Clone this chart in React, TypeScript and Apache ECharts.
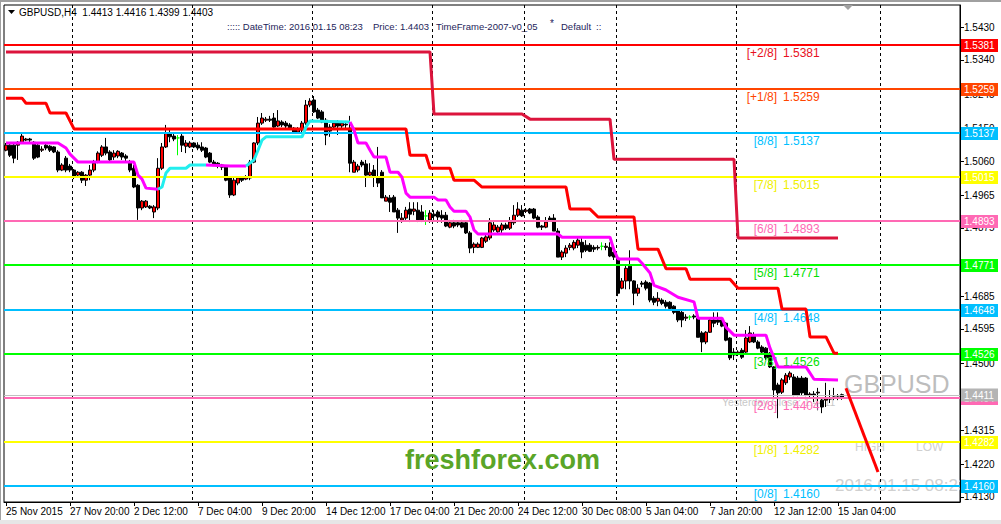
import React, { useEffect, useRef } from 'react';
import * as echarts from 'echarts';

// ---------- data ----------
const BAR_COUNT = 239; // bars incl. empty chart shift area

// H4 GBPUSD candles [open, close, low, high]
const candles: number[][] = [
  [1.5090,1.5104,1.5087,1.5110],[1.5104,1.5076,1.5071,1.5107],[1.5104,1.5068,1.5054,1.5107],[1.5104,1.5112,1.5063,1.5115],[1.5112,1.5129,1.5110,1.5135],
  [1.5118,1.5121,1.5115,1.5124],[1.5121,1.5118,1.5112,1.5124],[1.5112,1.5068,1.5063,1.5115],[1.5104,1.5071,1.5068,1.5107],[1.5090,1.5093,1.5085,1.5101],
  [1.5104,1.5096,1.5090,1.5110],[1.5101,1.5090,1.5085,1.5104],[1.5099,1.5085,1.5082,1.5101],[1.5085,1.5035,1.5029,1.5090],[1.5035,1.5049,1.5032,1.5054],
  [1.5068,1.5035,1.5029,1.5074],[1.5046,1.5035,1.5029,1.5052],[1.5035,1.5015,1.5010,1.5038],[1.5021,1.5029,1.5013,1.5032],[1.5029,1.5007,1.4999,1.5032],
  [1.5007,1.5021,1.4991,1.5024],[1.5021,1.5035,1.5007,1.5049],[1.5035,1.5054,1.5029,1.5063],[1.5057,1.5082,1.5054,1.5087],[1.5076,1.5099,1.5071,1.5104],
  [1.5099,1.5082,1.5076,1.5124],[1.5085,1.5063,1.5057,1.5090],[1.5071,1.5082,1.5063,1.5090],[1.5074,1.5087,1.5068,1.5090],[1.5082,1.5071,1.5063,1.5085],
  [1.5074,1.5068,1.5060,1.5079],[1.5057,1.5035,1.5029,1.5063],[1.5040,1.4988,1.4985,1.5049],[1.4993,1.4930,1.4897,1.4996],[1.4930,1.4949,1.4924,1.4952],
  [1.4933,1.4949,1.4930,1.4952],[1.4935,1.4930,1.4927,1.4938],[1.4919,1.4933,1.4902,1.4938],[1.4930,1.5040,1.4924,1.5068],[1.5040,1.5099,1.5035,1.5110],
  [1.5099,1.5138,1.5096,1.5160],[1.5138,1.5127,1.5112,1.5151],[1.5129,1.5121,1.5115,1.5135],[1.5124,1.5124,1.5076,1.5132],[1.5129,1.5104,1.5085,1.5138],
  [1.5101,1.5110,1.5082,1.5118],[1.5099,1.5110,1.5096,1.5115],[1.5110,1.5099,1.5096,1.5112],[1.5104,1.5096,1.5090,1.5112],[1.5099,1.5090,1.5085,1.5112],
  [1.5096,1.5071,1.5068,1.5099],[1.5082,1.5057,1.5054,1.5085],[1.5057,1.5049,1.5046,1.5063],[1.5054,1.5046,1.5040,1.5057],[1.5049,1.5043,1.5035,1.5052],
  [1.5043,1.5007,1.5004,1.5049],[1.5013,1.4966,1.4958,1.5015],[1.4966,1.5007,1.4963,1.5015],[1.4999,1.5013,1.4993,1.5015],[1.5013,1.5007,1.5002,1.5018],
  [1.5010,1.5015,1.5007,1.5021],[1.5013,1.5057,1.5007,1.5063],[1.5057,1.5110,1.5054,1.5112],[1.5110,1.5165,1.5104,1.5182],[1.5165,1.5179,1.5160,1.5193],
  [1.5173,1.5176,1.5168,1.5182],[1.5176,1.5173,1.5168,1.5185],[1.5179,1.5154,1.5151,1.5193],[1.5157,1.5171,1.5154,1.5201],[1.5168,1.5160,1.5154,1.5173],
  [1.5165,1.5157,1.5151,1.5171],[1.5160,1.5151,1.5148,1.5165],[1.5151,1.5140,1.5138,1.5154],[1.5140,1.5148,1.5138,1.5154],[1.5146,1.5165,1.5140,1.5171],
  [1.5165,1.5215,1.5160,1.5229],[1.5215,1.5226,1.5209,1.5234],[1.5229,1.5196,1.5193,1.5240],[1.5201,1.5179,1.5176,1.5207],[1.5196,1.5168,1.5165,1.5201],
  [1.5173,1.5132,1.5104,1.5179],[1.5154,1.5143,1.5127,1.5162],[1.5154,1.5165,1.5148,1.5171],[1.5165,1.5157,1.5132,1.5173],[1.5157,1.5165,1.5151,1.5171],
  [1.5162,1.5160,1.5146,1.5171],[1.5151,1.5054,1.5029,1.5185],[1.5029,1.5057,1.5029,1.5063],[1.5035,1.5046,1.5029,1.5052],[1.5057,1.5049,1.5043,1.5063],
  [1.5052,1.5021,1.4988,1.5063],[1.5021,1.5029,1.5015,1.5054],[1.5035,1.5015,1.4988,1.5049],[1.5013,1.4999,1.4988,1.5099],[1.5029,1.4958,1.4958,1.5035],
  [1.4949,1.4960,1.4949,1.4966],[1.4958,1.4946,1.4919,1.4966],[1.4960,1.4919,1.4919,1.4966],[1.4924,1.4902,1.4861,1.4930],[1.4897,1.4902,1.4889,1.4916],
  [1.4902,1.4924,1.4897,1.4933],[1.4927,1.4913,1.4891,1.4946],[1.4921,1.4927,1.4910,1.4946],[1.4924,1.4897,1.4891,1.4946],[1.4919,1.4897,1.4891,1.4938],
  [1.4908,1.4908,1.4883,1.4924],[1.4897,1.4916,1.4889,1.4924],[1.4913,1.4908,1.4897,1.4924],[1.4919,1.4905,1.4889,1.4924],[1.4910,1.4902,1.4889,1.4924],
  [1.4910,1.4880,1.4877,1.4919],[1.4877,1.4889,1.4874,1.4897],[1.4889,1.4880,1.4874,1.4897],[1.4889,1.4883,1.4877,1.4894],[1.4889,1.4877,1.4874,1.4897],
  [1.4889,1.4861,1.4858,1.4894],[1.4861,1.4819,1.4805,1.4866],[1.4821,1.4830,1.4805,1.4835],[1.4821,1.4830,1.4819,1.4835],[1.4821,1.4847,1.4819,1.4850],
  [1.4838,1.4850,1.4833,1.4855],[1.4847,1.4889,1.4841,1.4902],[1.4869,1.4883,1.4864,1.4891],[1.4864,1.4877,1.4861,1.4883],[1.4869,1.4883,1.4861,1.4889],
  [1.4883,1.4874,1.4869,1.4889],[1.4874,1.4891,1.4869,1.4905],[1.4889,1.4910,1.4883,1.4938],[1.4910,1.4927,1.4905,1.4946],[1.4924,1.4908,1.4905,1.4938],
  [1.4921,1.4924,1.4916,1.4930],[1.4927,1.4916,1.4913,1.4930],[1.4927,1.4902,1.4899,1.4930],[1.4905,1.4877,1.4874,1.4910],[1.4880,1.4877,1.4869,1.4883],
  [1.4877,1.4891,1.4874,1.4905],[1.4902,1.4897,1.4894,1.4908],[1.4902,1.4866,1.4866,1.4913],[1.4866,1.4794,1.4794,1.4874],[1.4794,1.4808,1.4786,1.4813],
  [1.4805,1.4819,1.4794,1.4827],[1.4821,1.4827,1.4813,1.4833],[1.4819,1.4835,1.4813,1.4841],[1.4827,1.4841,1.4819,1.4847],[1.4835,1.4808,1.4791,1.4847],
  [1.4827,1.4813,1.4808,1.4841],[1.4827,1.4810,1.4808,1.4833],[1.4821,1.4816,1.4808,1.4827],[1.4819,1.4821,1.4813,1.4827],[1.4824,1.4824,1.4813,1.4835],
  [1.4821,1.4824,1.4813,1.4833],[1.4821,1.4797,1.4794,1.4835],[1.4808,1.4794,1.4786,1.4813],[1.4791,1.4694,1.4686,1.4797],[1.4708,1.4728,1.4705,1.4736],
  [1.4728,1.4763,1.4705,1.4772],[1.4769,1.4728,1.4705,1.4813],[1.4728,1.4694,1.4661,1.4730],[1.4694,1.4708,1.4686,1.4719],[1.4722,1.4719,1.4711,1.4728],
  [1.4725,1.4708,1.4702,1.4730],[1.4722,1.4675,1.4669,1.4725],[1.4680,1.4669,1.4661,1.4686],[1.4672,1.4680,1.4658,1.4697],[1.4675,1.4666,1.4661,1.4680],
  [1.4669,1.4658,1.4652,1.4675],[1.4669,1.4652,1.4647,1.4672],[1.4658,1.4641,1.4636,1.4661],[1.4647,1.4620,1.4614,1.4650],[1.4641,1.4620,1.4600,1.4647],
  [1.4625,1.4628,1.4617,1.4636],[1.4628,1.4628,1.4620,1.4633],[1.4631,1.4628,1.4622,1.4636],[1.4625,1.4572,1.4572,1.4633],[1.4584,1.4559,1.4531,1.4589],
  [1.4559,1.4586,1.4553,1.4589],[1.4586,1.4620,1.4584,1.4625],[1.4620,1.4611,1.4600,1.4641],[1.4620,1.4614,1.4606,1.4641],[1.4620,1.4603,1.4600,1.4625],
  [1.4611,1.4564,1.4561,1.4614],[1.4570,1.4515,1.4509,1.4572],[1.4531,1.4523,1.4509,1.4542],[1.4528,1.4531,1.4520,1.4536],[1.4536,1.4517,1.4512,1.4542],
  [1.4531,1.4570,1.4528,1.4592],[1.4559,1.4584,1.4556,1.4603],[1.4578,1.4559,1.4556,1.4586],[1.4559,1.4542,1.4539,1.4564],[1.4545,1.4531,1.4528,1.4550],
  [1.4542,1.4515,1.4509,1.4545],[1.4528,1.4490,1.4487,1.4531],[1.4490,1.4426,1.4407,1.4492],[1.4440,1.4418,1.4348,1.4446],[1.4420,1.4454,1.4415,1.4459],
  [1.4446,1.4467,1.4440,1.4473],[1.4462,1.4473,1.4454,1.4478],[1.4462,1.4412,1.4409,1.4470],[1.4459,1.4412,1.4409,1.4465],[1.4459,1.4418,1.4412,1.4465],
  [1.4459,1.4412,1.4409,1.4462],[1.4412,1.4415,1.4404,1.4420],[1.4415,1.4412,1.4393,1.4423],[1.4418,1.4420,1.4370,1.4432],[1.4398,1.4379,1.4362,1.4404],
  [1.4398,1.4401,1.4379,1.4446],[1.4401,1.4404,1.4390,1.4426],[1.4404,1.4407,1.4398,1.4432],[1.4407,1.4404,1.4398,1.4415],[1.4413,1.4403,1.4399,1.4416],
];
const greenDojiBars = [43, 105, 149, 171];

// x-axis labels (bar index -> text)
const xLabelBars = [0, 16, 32, 48, 64, 80, 96, 112, 128, 144, 160, 176, 192, 208];
const xLabelTexts = ['25 Nov 2015', '27 Nov 20:00', '2 Dec 12:00', '7 Dec 04:00', '9 Dec 20:00', '14 Dec 12:00', '17 Dec 04:00',
  '21 Dec 20:00', '24 Dec 12:00', '30 Dec 08:00', '5 Jan 04:00', '7 Jan 20:00', '12 Jan 12:00', '15 Jan 04:00'];
// weekly period separators (bar index)
const separatorBars = [17, 47, 77, 107, 130, 153, 183, 219];

// y-axis tick labels (the ones not fully hidden behind price tags)
const yTickValues = [1.5430, 1.5340, 1.5245, 1.5150, 1.5060, 1.4965, 1.4875, 1.4685, 1.4595, 1.4500, 1.4315, 1.4220, 1.4130];

// Murrey math levels
const levelTags = ['[+2/8]', '[+1/8]', '[8/8]', '[7/8]', '[6/8]', '[5/8]', '[4/8]', '[3/8]', '[2/8]', '[1/8]', '[0/8]'];
const levelValues = [1.5381, 1.5259, 1.5137, 1.5015, 1.4893, 1.4771, 1.4648, 1.4526, 1.4404, 1.4282, 1.4160];
const yesterdayClose = 1.4411;

// stepped indicator lines: [bar, price] vertices
const upperRedLine = [[0, 1.5362], [106, 1.5362], [107, 1.5190], [129, 1.5190], [131, 1.5176], [151, 1.5176], [152, 1.5065], [182, 1.5065], [183, 1.4847], [208, 1.4847]];
const lowerRedLine = [[0, 1.5234], [4, 1.5234], [5, 1.5220], [10, 1.5220], [11, 1.5193], [15, 1.5193], [17, 1.5149], [100, 1.5149], [101, 1.5076], [105, 1.5076],
  [106, 1.5040], [111, 1.5040], [112, 1.5007], [117, 1.5007], [119, 1.4988], [140, 1.4988], [141, 1.4927], [146, 1.4927], [148, 1.4905], [157, 1.4905],
  [158, 1.4816], [163, 1.4816], [165, 1.4762], [170, 1.4762], [171, 1.4733], [181, 1.4733], [183, 1.4708], [193, 1.4708], [194, 1.4650], [200, 1.4650],
  [201, 1.4573], [205, 1.4573], [207, 1.4528], [208, 1.4528]];
const trendDown1 = [[0, 1.5110], [13, 1.5110], [15, 1.5096], [16, 1.5079], [18, 1.5057], [32, 1.5057], [33, 1.5021], [34, 1.5010], [35, 1.4985], [38, 1.4982]];
const trendUp1 = [[38, 1.4982], [39, 1.4988], [40, 1.5027], [41, 1.5040], [45, 1.5040], [46, 1.5049], [50, 1.5049]];
const trendDown2 = [[50, 1.5049], [56, 1.5046], [60, 1.5046]];
const trendUp2 = [[60, 1.5046], [62, 1.5063], [63, 1.5090], [64, 1.5118], [65, 1.5127], [74, 1.5127], [75, 1.5154], [76, 1.5171], [86, 1.5168]];
const trendDown3 = [[86, 1.5168], [87, 1.5146], [88, 1.5110], [90, 1.5110], [91, 1.5090], [92, 1.5071], [95, 1.5071], [96, 1.5029], [98, 1.5029], [99, 1.5015],
  [100, 1.4971], [101, 1.4960], [107, 1.4960], [108, 1.4952], [110, 1.4952], [111, 1.4933], [112, 1.4921], [115, 1.4921], [116, 1.4905], [117, 1.4869],
  [118, 1.4858], [138, 1.4858], [139, 1.4849], [151, 1.4849], [152, 1.4813], [153, 1.4789], [158, 1.4789], [159, 1.4777], [161, 1.4750], [162, 1.4716],
  [165, 1.4703], [168, 1.4683], [172, 1.4670], [173, 1.4625], [179, 1.4625], [180, 1.4600], [182, 1.4578], [190, 1.4578], [191, 1.4542], [193, 1.4490],
  [200, 1.4490], [202, 1.4456], [208, 1.4454]];
const redTrendLine = [[210, 1.4431], [218, 1.4199]];

// ---------- styles ----------
const FONT = '"Liberation Sans", Arial, sans-serif';
const levelColors = ['#ff0000', '#ff4500', '#00bfff', '#ffff00', '#ff69b4', '#00ff00', '#00bfff', '#00ff00', '#ff69b4', '#ffff00', '#00bfff'];
const levelTextColors = ['#e8101e', '#ff4500', '#00bfff', '#f0f000', '#ff69b4', '#00e000', '#00bfff', '#00e000', '#ff69b4', '#f0f000', '#00bfff'];
const LEVEL_TAG_BAR = 193;
const LEVEL_NUM_BAR = 194;
const Y_MIN = 1.4116;
const Y_MAX = 1.5492;
const HEADER_BLUE = '#1e1e5a';

function buildOption(): any {
  const categories = Array.from({ length: BAR_COUNT }, (_, i) => String(i));
  const candleData = candles.map((c, i) =>
    greenDojiBars.includes(i)
      ? { value: c, itemStyle: { color: '#00ff00', color0: '#00ff00', borderColor: '#00ff00', borderColor0: '#00ff00' } }
      : c
  );

  const lineSeries = (data: number[][], color: string, z = 5) => ({
    type: 'line', data, showSymbol: false, symbol: 'none', z, silent: true,
    lineStyle: { color, width: 3 }, animation: false,
  });

  const headerText = (x: number, y: number, text: string, size = 10) => ({
    type: 'text', x, y, style: { text, fill: HEADER_BLUE, font: `${size}px ${FONT}`, textVerticalAlign: 'middle' },
  });

  return {
    animation: false,
    backgroundColor: '#ffffff',
    grid: { left: 4, right: 41, top: 5, bottom: 22, show: true, borderColor: '#000', borderWidth: 1, backgroundColor: '#fff' },
    xAxis: {
      type: 'category', data: categories, boundaryGap: true,
      axisLine: { show: true, lineStyle: { color: '#000', width: 1 } },
      axisTick: { show: true, alignWithLabel: true, length: 4, interval: (i: number) => xLabelBars.includes(i), lineStyle: { color: '#000' } },
      axisLabel: {
        interval: (i: number) => xLabelBars.includes(i),
        formatter: (_v: string, i: number) => xLabelTexts[xLabelBars.indexOf(i)] ?? '',
        align: 'left', margin: 4, color: '#000', fontSize: 10, fontFamily: FONT,
      },
      splitLine: { show: false },
    },
    yAxis: {
      type: 'value', position: 'right', min: Y_MIN, max: Y_MAX, scale: true,
      axisLine: { show: true, lineStyle: { color: '#000' } },
      axisTick: { show: true, customValues: yTickValues, length: 4, lineStyle: { color: '#000' } },
      axisLabel: { customValues: yTickValues, formatter: (v: number) => v.toFixed(4), color: '#000', fontSize: 10, fontFamily: FONT, margin: 4 },
      splitLine: { show: false },
    },
    graphic: [
      { type: 'rect', shape: { x: 0, y: 0, width: 1001, height: 2 }, style: { fill: '#a0a0a0' } },
      { type: 'rect', shape: { x: 0, y: 0, width: 1, height: 524 }, style: { fill: '#a0a0a0' } },
      { type: 'rect', shape: { x: 0, y: 520, width: 1001, height: 4 }, style: { fill: '#e6e6e6' } },
      { type: 'polygon', shape: { points: [[8, 10], [15, 10], [11.5, 14]] }, style: { fill: '#000' } },
      { type: 'polygon', shape: { points: [[843, 5], [853, 5], [848, 10]] }, style: { fill: '#a0a0a0' } },
      { type: 'text', x: 19, y: 12, style: { text: 'GBPUSD,H4  1.4413 1.4416 1.4399 1.4403', fill: '#000', font: `10px ${FONT}`, textVerticalAlign: 'middle' } },
      headerText(227, 26, '::::: DateTime: 2016.01.15 08:23', 9.5),
      headerText(373, 26, 'Price: 1.4403', 9.5),
      headerText(436, 26, 'TimeFrame-2007-v0_05', 9.5),
      headerText(550, 23, '*', 10),
      headerText(561, 26, 'Default', 9.5),
      headerText(596, 26, '::', 9.5),
      { type: 'text', x: 844, y: 384, style: { text: 'GBPUSD', fill: '#bdbdbd', font: `25px ${FONT}`, textVerticalAlign: 'middle' } },
      { type: 'text', x: 722, y: 402, style: { text: 'Yesterday Close: 1.4411', fill: '#c8c8c8', font: `10.5px ${FONT}`, textVerticalAlign: 'middle' } },
      { type: 'text', x: 855, y: 447, style: { text: 'HIGH', fill: '#d0d0d0', font: `12px ${FONT}`, textVerticalAlign: 'middle' } },
      { type: 'text', x: 916, y: 447, style: { text: 'LOW', fill: '#d0d0d0', font: `12px ${FONT}`, textVerticalAlign: 'middle' } },
      { type: 'text', x: 835, y: 485, style: { text: '2016.01.15 08:23', fill: '#d0d0d0', font: `17px ${FONT}`, textVerticalAlign: 'middle' } },
      {
        type: 'text', x: 405, y: 460, z: 10,
        style: {
          text: 'freshforex.com', fill: '#5aa527', font: `bold 27px ${FONT}`, textVerticalAlign: 'middle',
          shadowColor: 'rgba(0,0,0,0.35)', shadowBlur: 4, shadowOffsetX: 3, shadowOffsetY: 4,
        },
      },
    ],
    series: [
      {
        type: 'custom', name: 'separators', z: 1, silent: true,
        data: separatorBars.map((b) => [b, Y_MIN]),
        renderItem: (params: any, api: any) => {
          const cs = params.coordSys;
          const x = Math.round(api.coord([api.value(0), api.value(1)])[0] - api.size([1, 0])[0] / 2) + 0.5;
          return { type: 'line', shape: { x1: x, y1: cs.y, x2: x, y2: cs.y + cs.height }, style: { stroke: '#000', lineWidth: 1, lineDash: [3, 3] } };
        },
      },
      {
        type: 'candlestick', name: 'GBPUSD', z: 2, silent: true,
        data: candleData, barWidth: 3,
        itemStyle: { color: '#ff0000', color0: '#000000', borderColor: '#000000', borderColor0: '#000000', borderWidth: 1 },
      },
      {
        type: 'custom', name: 'levels', z: 3, silent: true,
        data: levelValues.map((v) => [0, v]),
        renderItem: (params: any, api: any) => {
          const idx = params.dataIndex;
          const cs = params.coordSys;
          const v = api.value(1);
          const y = Math.round(api.coord([0, v])[1]);
          const x1 = cs.x + cs.width;
          const tagX = api.coord([LEVEL_TAG_BAR, v])[0] - 1;
          const numX = api.coord([LEVEL_NUM_BAR, v])[0] + 1;
          const color = levelColors[idx];
          const tcolor = levelTextColors[idx];
          return {
            type: 'group',
            children: [
              { type: 'line', shape: { x1: cs.x, y1: y, x2: x1, y2: y }, style: { stroke: color, lineWidth: 2 } },
              { type: 'text', style: { text: levelTags[idx], x: tagX, y: y + 2, fill: tcolor, font: `12px ${FONT}`, textAlign: 'right', textVerticalAlign: 'top' } },
              { type: 'text', style: { text: levelValues[idx].toFixed(4), x: numX, y: y + 2, fill: tcolor, font: `12px ${FONT}`, textAlign: 'left', textVerticalAlign: 'top' } },
              { type: 'rect', shape: { x: x1 + 1, y: y - 6, width: 37, height: 13 }, style: { fill: color } },
              { type: 'text', style: { text: levelValues[idx].toFixed(4), x: x1 + 4, y: y + 0.5, fill: '#ffffff', font: `10px ${FONT}`, textAlign: 'left', textVerticalAlign: 'middle' } },
            ],
          };
        },
      },
      {
        type: 'custom', name: 'yesterdayClose', z: 4, silent: true,
        data: [[0, yesterdayClose]],
        renderItem: (params: any, api: any) => {
          const cs = params.coordSys;
          const v = api.value(1);
          const y = Math.round(api.coord([0, v])[1]) + 0.5;
          const x1 = cs.x + cs.width;
          return {
            type: 'group',
            children: [
              { type: 'line', shape: { x1: cs.x, y1: y, x2: x1, y2: y }, style: { stroke: '#c0c0c0', lineWidth: 1 } },
              { type: 'rect', shape: { x: x1 + 1, y: y - 7, width: 37, height: 13 }, style: { fill: '#b4b4b4' } },
              { type: 'text', style: { text: v.toFixed(4), x: x1 + 4, y: y, fill: '#ffffff', font: `10px ${FONT}`, textAlign: 'left', textVerticalAlign: 'middle' } },
            ],
          };
        },
      },
      lineSeries(upperRedLine, '#dc143c'),
      lineSeries(lowerRedLine, '#ff0000'),
      lineSeries(trendDown1, '#ff00ff'),
      lineSeries(trendUp1, '#22eeee'),
      lineSeries(trendDown2, '#ff00ff'),
      lineSeries(trendUp2, '#22eeee'),
      lineSeries(trendDown3, '#ff00ff'),
      lineSeries(redTrendLine, '#ff0000', 6),
    ],
  };
}

export default function App() {
  const ref = useRef<HTMLDivElement>(null);
  useEffect(() => {
    if (!ref.current) return;
    const chart = echarts.init(ref.current, null, { renderer: 'svg' });
    chart.setOption(buildOption());
    return () => chart.dispose();
  }, []);
  return <div ref={ref} style={{ position: 'fixed', left: 0, top: 0, width: 1001, height: 524, background: '#fff' }} />;
}
